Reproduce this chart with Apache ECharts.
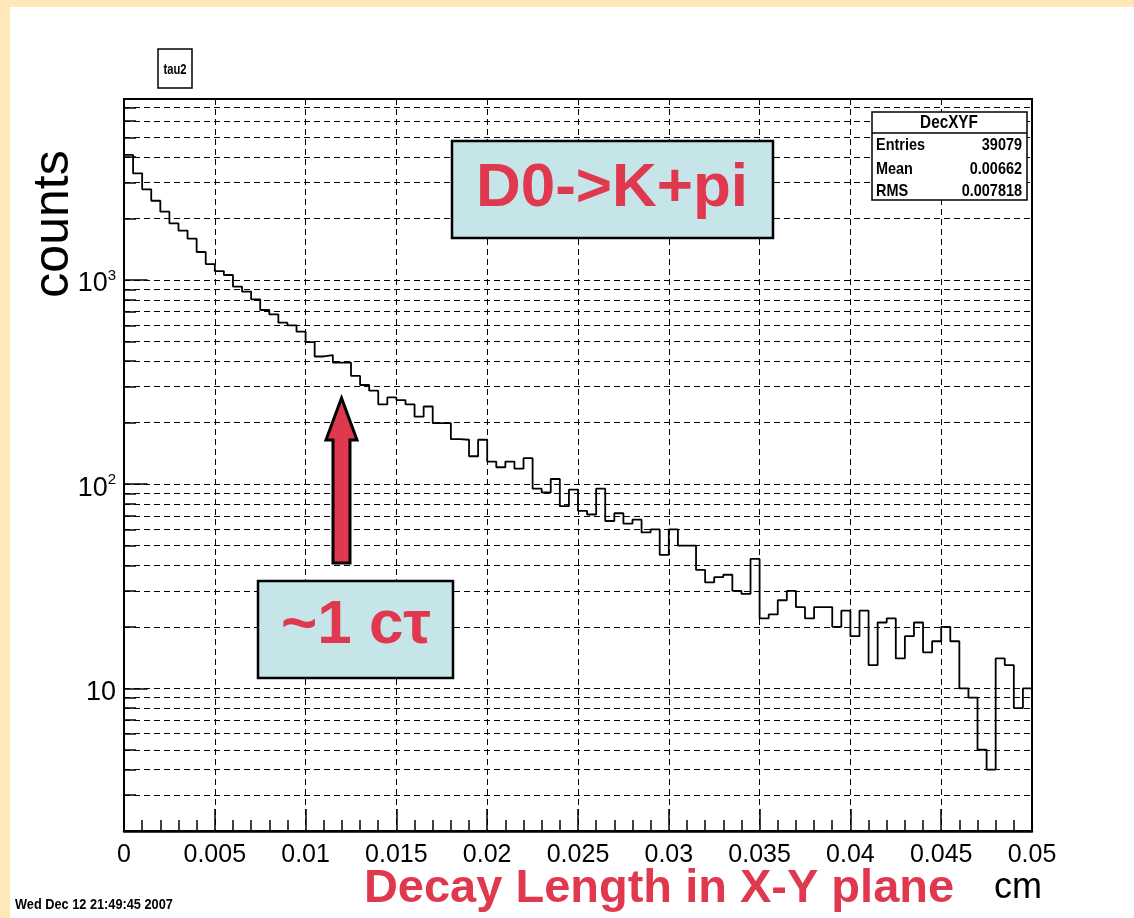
<!DOCTYPE html>
<html>
<head>
<meta charset="UTF-8">
<title>tau2</title>
<script src="https://cdn.jsdelivr.net/npm/echarts@6/dist/echarts.min.js"></script>
<style>
	html, body { margin: 0; padding: 0; background: #ffe8b8; }
	#paper { position: absolute; left: 10px; top: 7px; width: 1124px; height: 911px; background: #fff; }
	#chart { position: absolute; left: 0; top: 0; width: 1134px; height: 918px; }
</style>
</head>
<body>
<div id="paper"></div>
<div id="chart"></div>
<script>
	// histogram DecXYF, 100 bins from 0 to 0.05 cm
	var binWidth = 0.0005;
	var binCounts = [
		4096, 3331, 2781, 2444, 2160, 1895, 1743, 1594, 1371, 1197,
		1106, 1058, 927, 877, 804, 713, 679, 618, 600, 558,
		496, 422, 429, 394, 394, 339, 306, 287, 246, 266,
		258, 246, 214, 240, 199, 199, 166, 165, 137, 165,
		129, 121, 129, 119, 134, 95, 91, 106, 78, 94,
		74, 71, 95, 66, 72, 64, 67, 58, 60, 45,
		60, 50, 50, 38, 33, 35, 36, 30, 29, 43,
		22, 23, 27, 30, 25, 22, 25, 25, 20, 24,
		18, 24, 13, 21, 22, 14, 18, 21, 15, 17,
		20, 17, 10, 9, 5, 4, 14, 13, 8, 10
	];
	var xMin = 0, xMax = 0.05, xStep = 0.005;
	var yMin = 2, yMax = 7700;
	var decades = [10, 100, 1000];
	var statsTitle = 'DecXYF';
	var statsRows = [['Entries', '39079'], ['Mean', '0.00662'], ['RMS', '0.007818']];

	// step line points: left edge of every bin, plus the right edge of the last one
	var histPoints = binCounts.map(function(c, i) {
		return [i * binWidth, c];
	});
	histPoints.push([binCounts.length * binWidth, binCounts[binCounts.length - 1]]);

	// log grid lines at 2..9 x each decade
	var gridValues = [];
	[1, 10, 100, 1000].forEach(function(d) {
		for (var m = 1; m <= 9; m++) {
			var v = m * d;
			if (v > yMin && v < yMax) gridValues.push(v);
		}
	});

	var red = '#e0384e';
	var gridData = gridValues.map(function(v) {
		return { yAxis: v };
	});
	// short solid ticks on the left axis
	gridValues.forEach(function(v) {
		var len = decades.indexOf(v) >= 0 ? 0.0013 : 0.00066;
		gridData.push([{ coord: [0, v], lineStyle: { type: 'solid', width: 1.5 } }, { coord: [len, v] }]);
	});

	var textFont = "'Liberation Sans', Arial, sans-serif";

	var chart = echarts.init(document.getElementById('chart'));
	chart.setOption({
		animation: false,
		grid: {
			left: 124, top: 99, width: 908, height: 732,
			show: true, borderColor: '#000', borderWidth: 2, backgroundColor: 'transparent'
		},
		xAxis: {
			type: 'value', min: xMin, max: xMax, interval: xStep,
			axisLine: { lineStyle: { color: '#000', width: 2.5 } },
			axisTick: { inside: true, length: 22, lineStyle: { color: '#000', width: 1.5 } },
			minorTick: { show: true, splitNumber: 5, length: 11, lineStyle: { color: '#000', width: 1.5 } },
			splitLine: { show: true, lineStyle: { color: '#000', width: 1, type: [6, 4] } },
			axisLabel: { color: '#000', fontSize: 25, margin: 12, fontFamily: textFont }
		},
		yAxis: {
			type: 'log', logBase: 10, min: yMin, max: yMax,
			axisLine: { show: true, lineStyle: { color: '#000', width: 2 } },
			axisTick: { show: false },
			splitLine: { show: false },
			axisLabel: {
				color: '#000', fontSize: 27, margin: 8, fontFamily: textFont,
				padding: [8, 0, 0, 0],
				showMinLabel: false, showMaxLabel: false,
				formatter: function(v) {
					var e = Math.round(Math.log10(v));
					return e === 1 ? '10' : '10{sup|' + e + '}';
				},
				rich: { sup: { fontSize: 15, verticalAlign: 'top', lineHeight: 32, fontFamily: textFont } }
			}
		},
		series: [{
			name: 'grid', type: 'line', data: [], z: 1, silent: true,
			markLine: {
				silent: true, symbol: ['none', 'none'], animation: false,
				label: { show: false },
				lineStyle: { color: '#000', width: 1, type: [6, 4] },
				data: gridData
			}
		}, {
			name: 'DecXYF', type: 'line', step: 'end', data: histPoints, z: 3,
			showSymbol: false, symbol: 'none',
			lineStyle: { color: '#000', width: 1.8 }
		}],
		graphic: [
			// tau2 label
			{ type: 'rect', shape: { x: 158, y: 49, width: 34, height: 39 }, style: { fill: '#fff', stroke: '#000', lineWidth: 1.5 } },
			{ type: 'text', x: 175, y: 70, scaleX: 0.8, style: { text: 'tau2', font: 'bold 14px ' + textFont, fill: '#000', align: 'center', verticalAlign: 'middle' } },
			// y title
			{ type: 'text', x: 54, y: 224, rotation: Math.PI / 2, style: { text: 'counts', font: '50px ' + textFont, fill: '#000', align: 'center', verticalAlign: 'middle' } },
			// stats box
			{ type: 'rect', shape: { x: 872, y: 112, width: 155, height: 88 }, style: { fill: '#fff', stroke: '#000', lineWidth: 1.5 }, z: 10 },
			{ type: 'line', shape: { x1: 872, y1: 133, x2: 1027, y2: 133 }, style: { stroke: '#000', lineWidth: 1.5 }, z: 11 },
			{ type: 'text', x: 949, y: 123, scaleX: 0.85, z: 11, style: { text: statsTitle, font: 'bold 18px ' + textFont, fill: '#000', align: 'center', verticalAlign: 'middle' } },
			{ type: 'text', x: 876, y: 145, scaleX: 0.85, z: 11, style: { text: statsRows[0][0], font: 'bold 17px ' + textFont, fill: '#000', align: 'left', verticalAlign: 'middle' } },
			{ type: 'text', x: 1022, y: 145, scaleX: 0.85, z: 11, style: { text: statsRows[0][1], font: 'bold 17px ' + textFont, fill: '#000', align: 'right', verticalAlign: 'middle' } },
			{ type: 'text', x: 876, y: 169, scaleX: 0.85, z: 11, style: { text: statsRows[1][0], font: 'bold 17px ' + textFont, fill: '#000', align: 'left', verticalAlign: 'middle' } },
			{ type: 'text', x: 1022, y: 169, scaleX: 0.85, z: 11, style: { text: statsRows[1][1], font: 'bold 17px ' + textFont, fill: '#000', align: 'right', verticalAlign: 'middle' } },
			{ type: 'text', x: 876, y: 191, scaleX: 0.85, z: 11, style: { text: statsRows[2][0], font: 'bold 17px ' + textFont, fill: '#000', align: 'left', verticalAlign: 'middle' } },
			{ type: 'text', x: 1022, y: 191, scaleX: 0.85, z: 11, style: { text: statsRows[2][1], font: 'bold 17px ' + textFont, fill: '#000', align: 'right', verticalAlign: 'middle' } },
			// D0->K+pi box
			{ type: 'rect', shape: { x: 452, y: 141, width: 321, height: 97 }, style: { fill: '#c5e5e8', stroke: '#000', lineWidth: 2.5 }, z: 10 },
			{ type: 'text', x: 612, y: 189, z: 11, style: { text: 'D0->K+pi', font: 'bold 62px ' + textFont, fill: red, align: 'center', verticalAlign: 'middle' } },
			// arrow
			{ type: 'polygon', z: 10, shape: { points: [[341.5, 398], [357, 440], [350, 440], [350, 563], [333, 563], [333, 440], [326, 440]] }, style: { fill: red, stroke: '#000', lineWidth: 3, lineJoin: 'miter' } },
			// ~1 c tau box
			{ type: 'rect', shape: { x: 258, y: 581, width: 195, height: 97 }, style: { fill: '#c5e5e8', stroke: '#000', lineWidth: 2.5 }, z: 10 },
			{ type: 'text', x: 356, y: 626, z: 11, style: { text: '~1 c\u03c4', font: 'bold 62px ' + textFont, fill: red, align: 'center', verticalAlign: 'middle' } },
			// x title, units, date
			{ type: 'text', x: 659, y: 889, style: { text: 'Decay Length in X-Y plane', font: 'bold 47px ' + textFont, fill: red, align: 'center', verticalAlign: 'middle' } },
			{ type: 'text', x: 1018, y: 888, style: { text: 'cm', font: '36px ' + textFont, fill: '#000', align: 'center', verticalAlign: 'middle' } },
			{ type: 'text', x: 15, y: 905, scaleX: 0.85, style: { text: 'Wed Dec 12 21:49:45 2007', font: 'bold 15px ' + textFont, fill: '#000', align: 'left', verticalAlign: 'middle' } }
		]
	});
</script>
</body>
</html>
